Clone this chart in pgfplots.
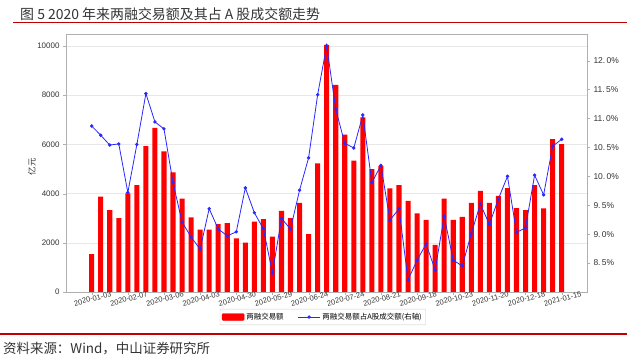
\documentclass[border=0pt]{standalone}
\usepackage{fontspec}
\setmainfont{Liberation Sans}
\newfontfamily\cjk{Noto Sans CJK SC}
\usepackage{pgfplots}
\usepackage{pgfplotstable}
\pgfplotsset{compat=1.18}
\definecolor{barred}{RGB}{255,0,0}
\definecolor{lineblue}{RGB}{40,40,255}
\definecolor{hdrred}{RGB}{192,0,0}
\definecolor{spine}{RGB}{176,176,176}
\definecolor{gridc}{RGB}{232,232,232}
\pgfplotstableread{
i v p
0 1535 10.87
1 3880 10.71
2 3330 10.54
3 3000 10.56
4 4005 9.72
5 4345 10.55
6 5935 11.43
7 6670 10.94
8 5715 10.82
9 4860 9.89
10 3800 9.21
11 3030 8.95
12 2540 8.74
13 2540 9.44
14 2760 9.09
15 2800 8.97
16 2180 9.04
17 2010 9.80
18 2860 9.37
19 2960 9.09
20 2250 8.33
21 3300 9.27
22 3000 9.09
23 3620 9.76
24 2350 10.32
25 5230 11.41
26 10050 12.26
27 8420 11.16
28 6395 10.57
29 5340 10.49
30 7100 11.06
31 5000 9.89
32 5130 10.19
33 4210 9.24
34 4345 9.44
35 3700 8.21
36 3200 8.55
37 2930 8.83
38 1915 8.38
39 3800 9.31
40 2930 8.55
41 3055 8.45
42 3625 9.01
43 4115 9.52
44 3625 9.17
45 3910 9.61
46 4220 10.00
47 3410 9.03
48 3330 9.11
49 4345 10.02
50 3395 9.68
51 6220 10.52
52 6015 10.64
}\data
\begin{document}
\begin{tikzpicture}
\path[use as bounding box] (0bp,0bp) rectangle (640bp,362bp);
\node[anchor=west, inner sep=0pt, font=\cjk\fontsize{14}{16}\selectfont, text=black!80] at (20bp,348bp) {图 5 2020 年来两融交易额及其占 A 股成交额走势};
\draw[hdrred, line width=1.3bp] (13bp,339.5bp) -- (627bp,339.5bp);
\begin{axis}[
  at={(66bp,70bp)}, anchor=south west,
  width=521bp, height=258bp, scale only axis,
  xmin=-2.84, xmax=54.8, ymin=0, ymax=10490,
  ybar, bar width=0.56,
  xtick={0,4,...,52},
  xticklabels={2020-01-03,2020-02-07,2020-03-06,2020-04-03,2020-04-30,2020-05-29,2020-06-24,2020-07-24,2020-08-21,2020-09-18,2020-10-23,2020-11-20,2020-12-18,2021-01-15},
  xticklabel style={rotate=15, anchor=north, font=\fontsize{7.5}{9}\selectfont, inner sep=1bp, text=black!80},
  ytick={0,2000,4000,6000,8000,10000},
  scaled y ticks=false,
  yticklabel style={font=\fontsize{8}{9}\selectfont, text=black!80},
  /pgf/number format/assume math mode=true,
  /pgf/number format/1000 sep={},
  ymajorgrids, grid style={gridc, line width=0.6bp},
  axis line style={spine},
  tick style={spine},
  tick align=outside, xtick pos=bottom, ytick pos=left,
  major tick length=3bp,
]
\addplot[fill=barred, draw=none] table[x=i,y=v]{\data};
\end{axis}
\begin{axis}[
  at={(66bp,70bp)}, anchor=south west,
  width=521bp, height=258bp, scale only axis,
  xmin=-2.84, xmax=54.8, ymin=8.0, ymax=12.46,
  axis x line=none, axis y line*=right,
  axis line style={spine},
  tick style={spine},
  tick align=outside, major tick length=3bp,
  ytick={8.5,9,9.5,10,10.5,11,11.5,12},
  yticklabels={8.\,5\%,9.\,0\%,9.\,5\%,10.\,0\%,10.\,5\%,11.\,0\%,11.\,5\%,12.\,0\%},
  yticklabel style={font=\fontsize{8.5}{9}\selectfont, text=black!80},
  legend columns=2,
  legend style={at={(axis description cs:0.493,-0.097)}, anchor=center, draw=gray!40, font=\cjk\fontsize{7.5}{9}\selectfont, /tikz/every even column/.append style={column sep=12bp}, inner sep=2bp, rounded corners=1bp},
]
\addlegendimage{legend image code/.code={\fill[barred] (0bp,-3.5bp) rectangle (22bp,3.5bp);}}
\addlegendentry{两融交易额}
\addplot[lineblue, line width=0.8bp, mark=*, mark size=1.3bp, mark options={fill=lineblue, draw=lineblue},
  legend image code/.code={\draw[lineblue, line width=0.8bp] (0bp,0bp) -- (22bp,0bp); \fill[lineblue] (11bp,0bp) circle (1.3bp);}]
  table[x=i,y=p]{\data};
\addlegendentry{两融交易额占A股成交额(右轴)}
\end{axis}
\node[rotate=90, font=\cjk\fontsize{8.5}{10}\selectfont, text=black!80] at (32bp,195bp) {亿元};
\draw[hdrred, line width=1.3bp] (0bp,28bp) -- (627bp,28bp);
\node[anchor=west, inner sep=0pt, font=\cjk\fontsize{13.5}{16}\selectfont, text=black!80] at (3bp,13bp) {资料来源：Wind，中山证券研究所};
\end{tikzpicture}
\end{document}
